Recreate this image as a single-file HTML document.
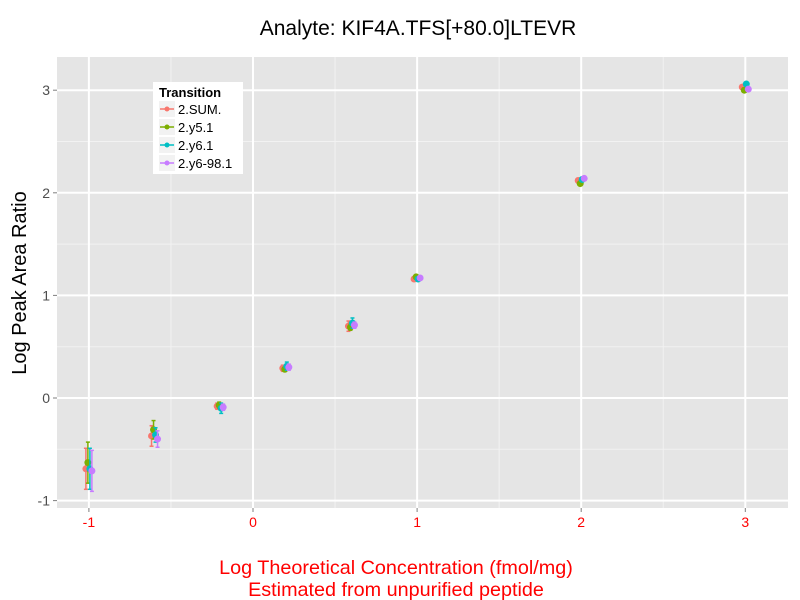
<!DOCTYPE html>
<html><head><meta charset="utf-8"><style>body{margin:0;background:#fff}svg{display:block;font-family:"Liberation Sans",sans-serif}</style></head>
<body>
<svg id="chart" width="800" height="600">
<text x="418" y="35" text-anchor="middle" font-size="21">Analyte: KIF4A.TFS[+80.0]LTEVR</text>
<rect x="57" y="57" width="731" height="451" fill="#e5e5e5"/>
<g id="grid"></g><g id="marks"></g><g id="axes"></g>
<text x="396" y="574" text-anchor="middle" font-size="19.8" fill="#ff0000">Log Theoretical Concentration (fmol/mg)</text>
<text x="396" y="596" text-anchor="middle" font-size="19.8" fill="#ff0000">Estimated from unpurified peptide</text>
<text transform="translate(26,283) rotate(-90)" text-anchor="middle" font-size="20">Log Peak Area Ratio</text>
<g>
<rect x="153" y="82" width="90" height="92" fill="#fff"/>
<text x="159" y="97" font-size="13" font-weight="bold">Transition</text>
<g id="legend-items"></g>
</g>
</svg>
<script>
const categories=[-1,-0.6,-0.2,0.2,0.6,1,2,3];
const seriesNames=["2.SUM.","2.y5.1","2.y6.1","2.y6-98.1"];
const colors=["#f8766d","#7cae00","#00bfc4","#c77cff"];
const sumVals=[-0.69,-0.37,-0.08,0.29,0.70,1.16,2.12,3.03];
const y5Vals=[-0.63,-0.31,-0.07,0.28,0.69,1.18,2.09,3.00];
const y6Vals=[-0.69,-0.36,-0.10,0.31,0.73,1.16,2.13,3.06];
const y698Vals=[-0.71,-0.40,-0.09,0.30,0.71,1.17,2.14,3.01];
const sumErr=[0.20,0.10,0.03,0.03,0.05,0.02,0.02,0.02];
const y5Err=[0.20,0.09,0.03,0.02,0.03,0.02,0.02,0.02];
const y6Err=[0.20,0.07,0.05,0.04,0.05,0.02,0.02,0.02];
const y698Err=[0.20,0.08,0.03,0.03,0.03,0.02,0.02,0.02];
const xTicks=[-1,0,1,2,3];const yTicks=[-1,0,1,2,3];
const xMinor=[-0.5,0.5,1.5,2.5];const yMinor=[-0.5,0.5,1.5,2.5];
const X=v=>253+v*164.1, Y=v=>398-v*102.6;
const NS="http://www.w3.org/2000/svg";
function mk(t,a,p){const e=document.createElementNS(NS,t);for(const k in a)e.setAttribute(k,a[k]);p.appendChild(e);return e;}
const grid=document.getElementById('grid'),marks=document.getElementById('marks'),axes=document.getElementById('axes');
xMinor.forEach(v=>{const l=mk('line',{x1:X(v),x2:X(v),y1:57,y2:508,stroke:'#f2f2f2','stroke-width':1},grid);});
yMinor.forEach(v=>{const l=mk('line',{x1:57,x2:788,y1:Y(v),y2:Y(v),stroke:'#f2f2f2','stroke-width':1},grid);});
xTicks.forEach(v=>{const l=mk('line',{x1:X(v),x2:X(v),y1:57,y2:508,stroke:'#fff','stroke-width':2},grid);
mk('line',{x1:X(v),x2:X(v),y1:508,y2:512,stroke:'#7f7f7f'},axes);
const t=mk('text',{x:X(v),y:527,'text-anchor':'middle','font-size':14,fill:'#ff0000'},axes);t.textContent=v;});
yTicks.forEach(v=>{const l=mk('line',{x1:57,x2:788,y1:Y(v),y2:Y(v),stroke:'#fff','stroke-width':2},grid);
mk('line',{x1:53,x2:57,y1:Y(v),y2:Y(v),stroke:'#7f7f7f'},axes);
const t=mk('text',{x:50,y:Y(v)+5,'text-anchor':'end','font-size':14,fill:'#4d4d4d'},axes);t.textContent=v;});
const vals=[sumVals,y5Vals,y6Vals,y698Vals],errs=[sumErr,y5Err,y6Err,y698Err],offs=[-3,-1,1,3];
vals.forEach((s,si)=>{const g=mk('g',{},marks);
s.forEach((v,i)=>{const cx=X(categories[i])+offs[si],e=errs[si][i],c=colors[si];
mk('line',{x1:cx,x2:cx,y1:Y(v+e),y2:Y(v-e),stroke:c,'stroke-width':1.5},g);
mk('line',{x1:cx-2,x2:cx+2,y1:Y(v+e),y2:Y(v+e),stroke:c,'stroke-width':1.5},g);
mk('line',{x1:cx-2,x2:cx+2,y1:Y(v-e),y2:Y(v-e),stroke:c,'stroke-width':1.5},g);
const p=mk('circle',{cx:cx,cy:Y(v),r:3.5,fill:c},g);});});
const li=document.getElementById('legend-items');
seriesNames.forEach((n,i)=>{const y=109+i*18;const g=mk('g',{},li);
mk('rect',{x:159,y:y-8,width:16,height:16,fill:'#f2f2f2'},g);
mk('line',{x1:160,x2:174,y1:y,y2:y,stroke:colors[i],'stroke-width':1.5},g);
mk('circle',{cx:167,cy:y,r:2.5,fill:colors[i]},g);
const t=mk('text',{x:178,y:y+5,'font-size':13},g);t.textContent=n;});
</script>
</body></html>
